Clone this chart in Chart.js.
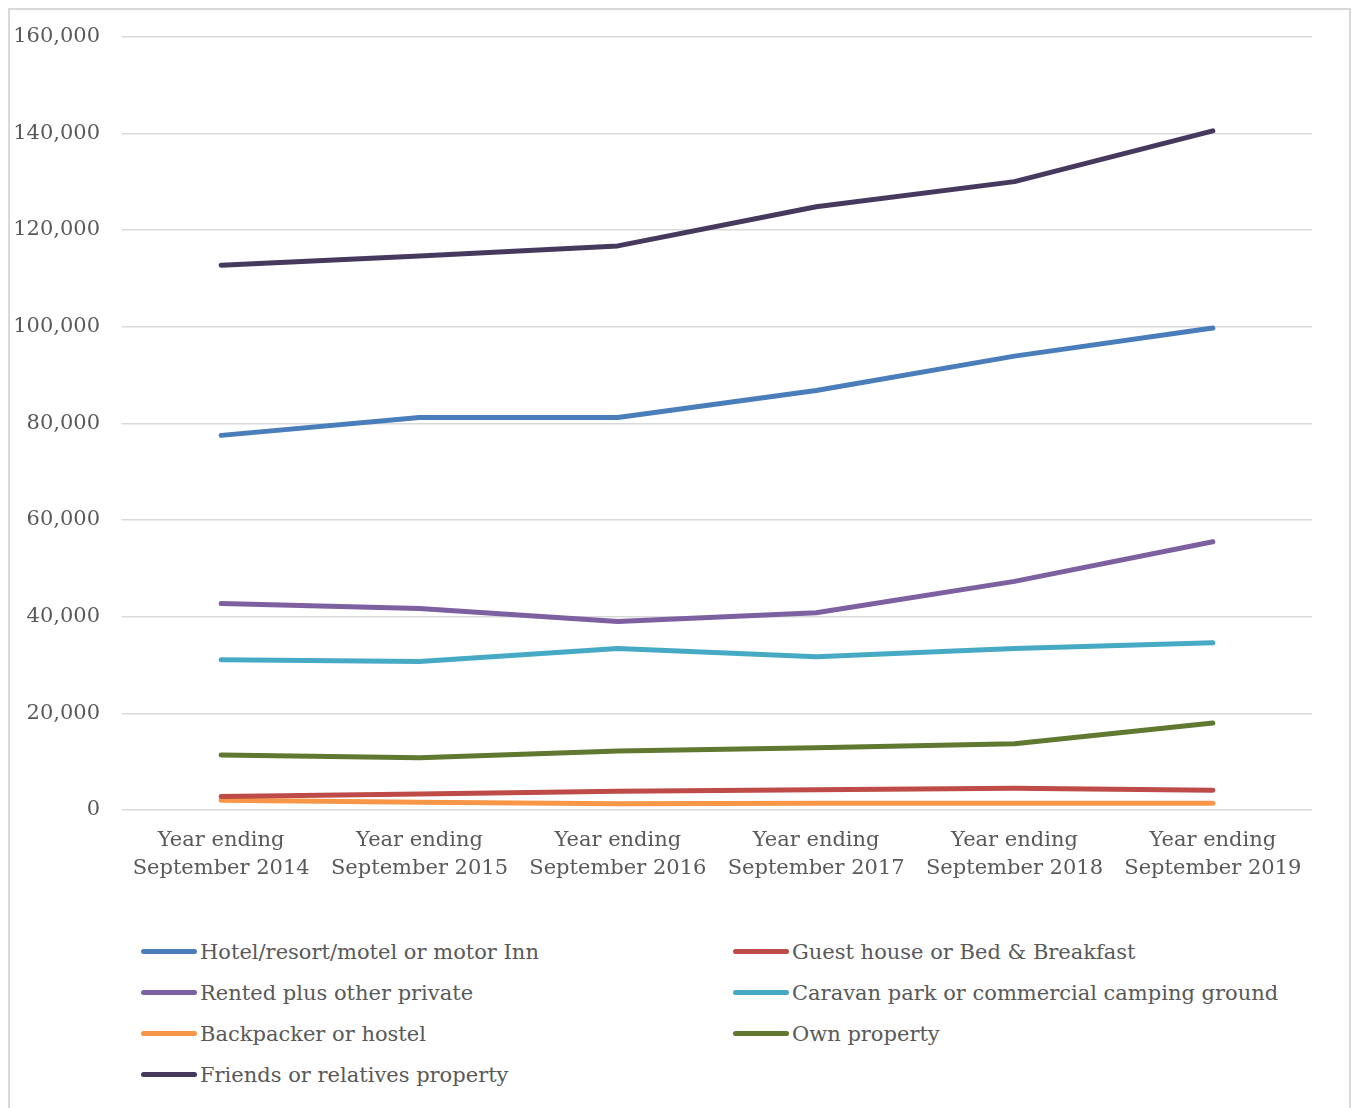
<!DOCTYPE html>
<html>
<head>
<meta charset="utf-8">
<script src="https://cdn.jsdelivr.net/npm/chart.js@4.4.1/dist/chart.umd.min.js"></script>
<style>
    body { margin: 0; background: #fff; }
    #frame {
        position: absolute; left: 8px; top: 8px; width: 1343px; height: 1110px;
        border: 2px solid #d9d9d9; box-sizing: border-box;
    }
    #chartBox { position: absolute; left: 1px; top: -8px; width: 1342px; height: 909px; }
    #legend {
        position: absolute; left: 131px; top: 921px;
        display: grid; grid-template-columns: 592px 592px; row-gap: 0;
        font-family: "DejaVu Serif", serif; font-size: 21px; color: #595959;
    }
    #legend div { display: flex; align-items: center; height: 41px; }
    #legend span.sw { display: inline-block; width: 56px; height: 5px; border-radius: 3px; margin-right: 3px; }
</style>
</head>
<body>
<div id="frame">
    <div id="chartBox"><canvas id="c"></canvas></div>
    <div id="legend"></div>
</div>
<script>
const categories = [
    ['Year ending', 'September 2014'],
    ['Year ending', 'September 2015'],
    ['Year ending', 'September 2016'],
    ['Year ending', 'September 2017'],
    ['Year ending', 'September 2018'],
    ['Year ending', 'September 2019']
];

const hotel = [77500, 81200, 81200, 86800, 93900, 99700];
const guestHouse = [2800, 3300, 3900, 4200, 4500, 4100];
const rented = [42700, 41700, 39000, 40800, 47300, 55500];
const caravan = [31100, 30700, 33400, 31700, 33400, 34600];
const backpacker = [2000, 1600, 1300, 1400, 1400, 1400];
const ownProperty = [11400, 10800, 12200, 12900, 13700, 18000];
const friends = [112700, 114600, 116700, 124800, 130000, 140500];

const series = [
    { label: 'Hotel/resort/motel or motor Inn', data: hotel, color: '#4a7ebb' },
    { label: 'Guest house or Bed & Breakfast', data: guestHouse, color: '#be4b48' },
    { label: 'Rented plus other private', data: rented, color: '#7d60a0' },
    { label: 'Caravan park or commercial camping ground', data: caravan, color: '#46aac5' },
    { label: 'Backpacker or hostel', data: backpacker, color: '#f79646' },
    { label: 'Own property', data: ownProperty, color: '#60782f' },
    { label: 'Friends or relatives property', data: friends, color: '#47395e' }
];

const font = { family: '"DejaVu Serif", serif', size: 21 };

new Chart(document.getElementById('c'), {
    type: 'line',
    data: {
        labels: categories,
        datasets: series.map(s => ({
            label: s.label,
            data: s.data,
            borderColor: s.color,
            backgroundColor: s.color,
            borderWidth: 5,
            borderCapStyle: 'round',
            borderJoinStyle: 'round',
            pointRadius: 0,
            tension: 0
        }))
    },
    options: {
        responsive: true,
        maintainAspectRatio: false,
        animation: false,
        layout: { padding: { top: 19, right: 41, bottom: 21, left: 0 } },
        plugins: {
            legend: { display: false },
            tooltip: { enabled: false }
        },
        scales: {
            x: {
                offset: true,
                grid: { display: false },
                border: { display: false },
                ticks: {
                    font: { family: font.family, size: 21, lineHeight: 1.33 },
                    color: '#595959', padding: 9, maxRotation: 0
                },
                afterFit: (scale) => { scale.height = 80; }
            },
            y: {
                min: 0,
                max: 160000,
                grid: { color: '#d9d9d9', lineWidth: 1.5, drawTicks: false },
                border: { display: false },
                ticks: {
                    stepSize: 20000,
                    font: font,
                    color: '#595959',
                    padding: 22,
                    callback: (v) => v.toLocaleString('en-US')
                },
                afterFit: (scale) => { scale.width = 111; }
            }
        }
    }
});

// legend drawn as html, two columns like the original
const legendEl = document.getElementById('legend');
series.forEach(s => {
    const item = document.createElement('div');
    const sw = document.createElement('span');
    sw.className = 'sw';
    sw.style.background = s.color;
    item.appendChild(sw);
    item.appendChild(document.createTextNode(s.label));
    legendEl.appendChild(item);
});
</script>
</body>
</html>
